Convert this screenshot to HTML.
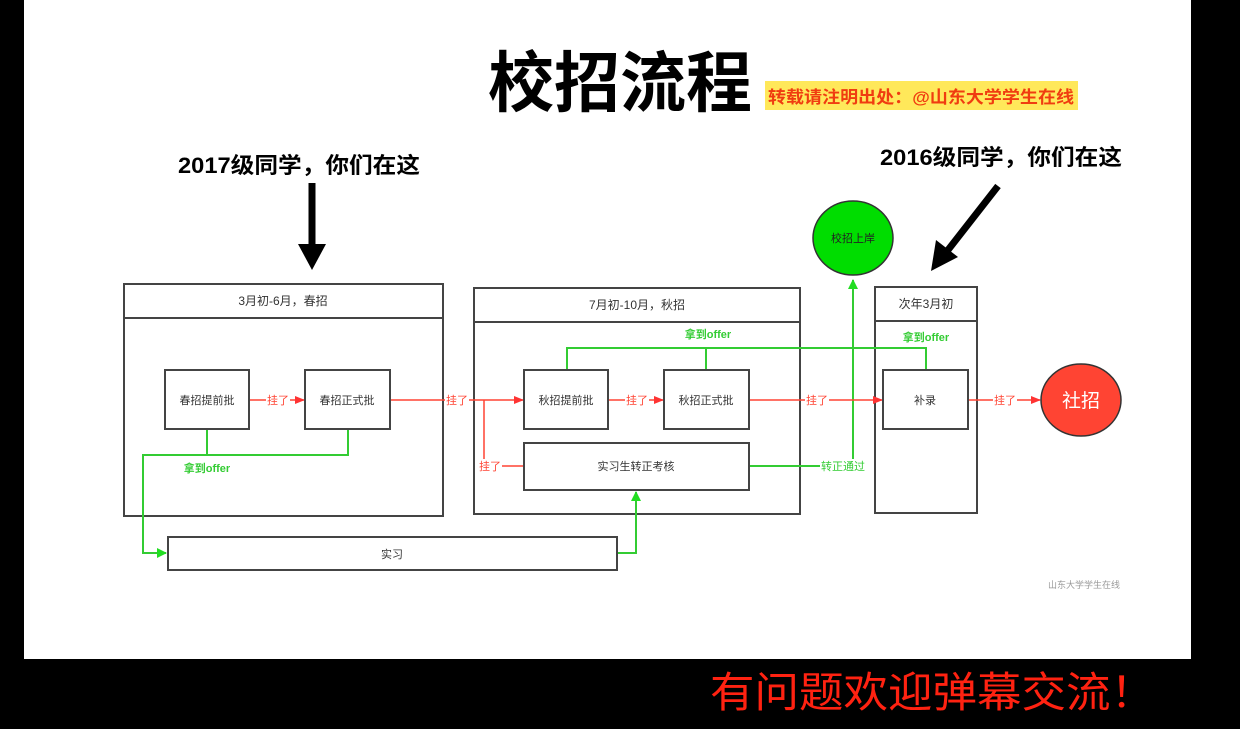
<!DOCTYPE html>
<html><head><meta charset="utf-8"><style>
html,body{margin:0;padding:0;background:#000;width:1240px;height:729px;overflow:hidden}
svg text{font-family:"Liberation Sans","Noto Sans CJK SC",sans-serif}
</style></head><body>
<svg width="1240" height="729" xmlns="http://www.w3.org/2000/svg">
<defs>
<marker id="r" markerWidth="10" markerHeight="8" refX="9" refY="4" orient="auto" markerUnits="userSpaceOnUse"><path d="M0,0 L10,4 L0,8z" fill="#f33"/></marker>
<marker id="g" markerWidth="10" markerHeight="10" refX="9" refY="5" orient="auto" markerUnits="userSpaceOnUse"><path d="M0,0 L10,5 L0,10z" fill="#2d2"/></marker>
</defs>
<rect x="24" y="0" width="1167" height="659" fill="#fff"/>
<text x="488" y="106" font-size="66" font-weight="bold" fill="#000">校招流程</text>
<rect x="765" y="81" width="313" height="29" fill="#ffe85a"/>
<text x="768" y="103" font-size="17" font-weight="bold" fill="#f03c10" textLength="306" lengthAdjust="spacingAndGlyphs">转载请注明出处：@山东大学学生在线</text>
<text x="178" y="173" font-size="22" font-weight="bold" fill="#000" textLength="242" lengthAdjust="spacingAndGlyphs">2017级同学，你们在这</text>
<text x="880" y="165" font-size="22" font-weight="bold" fill="#000" textLength="242" lengthAdjust="spacingAndGlyphs">2016级同学，你们在这</text>
<line x1="312" y1="183" x2="312" y2="248" stroke="#000" stroke-width="7"/>
<path d="M298,244 L326,244 L312,270z" fill="#000"/>
<line x1="998" y1="186" x2="948" y2="250" stroke="#000" stroke-width="7"/>
<path d="M936,240 L958,257 L931,271z" fill="#000"/>
<g fill="#fff" stroke="#444" stroke-width="2">
<rect x="124" y="284" width="319" height="232"/><line x1="124" y1="318" x2="443" y2="318"/>
<rect x="474" y="288" width="326" height="226"/><line x1="474" y1="322" x2="800" y2="322"/>
<rect x="875" y="287" width="102" height="226"/><line x1="875" y1="321" x2="977" y2="321"/>
</g>
<g font-size="12" fill="#333" text-anchor="middle">
<text x="283" y="305">3月初-6月，春招</text>
<text x="637" y="309">7月初-10月，秋招</text>
<text x="926" y="308">次年3月初</text>
</g>
<g stroke="#3c3" stroke-width="2" fill="none">
<polyline points="207,429 207,455"/><polyline points="348,429 348,455 143,455 143,553 166,553" marker-end="url(#g)"/>
<polyline points="617,553 636,553 636,492" marker-end="url(#g)"/>
<polyline points="567,370 567,348 926,348 926,370"/><line x1="706" y1="370" x2="706" y2="348"/>
<polyline points="749,466 853,466 853,280" marker-end="url(#g)"/>
</g>
<g font-size="11" font-weight="bold" fill="#3c3" text-anchor="middle">
<text x="207" y="472">拿到offer</text>
<text x="708" y="338">拿到offer</text>
<text x="926" y="341">拿到offer</text>
<rect x="820" y="459" width="46" height="14" fill="#fff"/>
<text x="843" y="470" font-weight="normal">转正通过</text>
</g>
<g stroke="#f43" stroke-width="1.5" fill="none">
<line x1="249" y1="400" x2="304" y2="400" marker-end="url(#r)"/>
<line x1="390" y1="400" x2="523" y2="400" marker-end="url(#r)"/>
<polyline points="484,400 484,466 524,466"/>
<line x1="608" y1="400" x2="663" y2="400" marker-end="url(#r)"/>
<line x1="749" y1="400" x2="882" y2="400" marker-end="url(#r)"/>
<line x1="968" y1="400" x2="1040" y2="400" marker-end="url(#r)"/>
</g>
<g font-size="11" fill="#f43" text-anchor="middle">
<rect x="266" y="393" width="24" height="14" fill="#fff"/><text x="278" y="404">挂了</text>
<rect x="445" y="393" width="24" height="14" fill="#fff"/><text x="457" y="404">挂了</text>
<rect x="478" y="459" width="24" height="14" fill="#fff"/><text x="490" y="470">挂了</text>
<rect x="625" y="393" width="24" height="14" fill="#fff"/><text x="637" y="404">挂了</text>
<rect x="805" y="393" width="24" height="14" fill="#fff"/><text x="817" y="404">挂了</text>
<rect x="993" y="393" width="24" height="14" fill="#fff"/><text x="1005" y="404">挂了</text>
</g>
<g fill="#fff" stroke="#444" stroke-width="2">
<rect x="165" y="370" width="84" height="59"/>
<rect x="305" y="370" width="85" height="59"/>
<rect x="524" y="370" width="84" height="59"/>
<rect x="664" y="370" width="85" height="59"/>
<rect x="524" y="443" width="225" height="47"/>
<rect x="883" y="370" width="85" height="59"/>
<rect x="168" y="537" width="449" height="33"/>
</g>
<g font-size="11" fill="#333" text-anchor="middle">
<text x="207" y="404">春招提前批</text>
<text x="347" y="404">春招正式批</text>
<text x="566" y="404">秋招提前批</text>
<text x="706" y="404">秋招正式批</text>
<text x="636" y="470">实习生转正考核</text>
<text x="925" y="404">补录</text>
<text x="392" y="558">实习</text>
</g>
<ellipse cx="853" cy="238" rx="40" ry="37" fill="#0d0" stroke="#333" stroke-width="1.5"/>
<text x="853" y="242" font-size="11" fill="#222" text-anchor="middle">校招上岸</text>
<ellipse cx="1081" cy="400" rx="40" ry="36" fill="#f43" stroke="#333" stroke-width="1.5"/>
<text x="1081" y="407" font-size="19" fill="#fff" text-anchor="middle">社招</text>
<text x="1084" y="588" font-size="9" fill="#999" text-anchor="middle">山东大学学生在线</text>
<text x="710" y="707" font-size="42" fill="#f21" textLength="445" lengthAdjust="spacingAndGlyphs">有问题欢迎弹幕交流！</text>
</svg>
</body></html>
